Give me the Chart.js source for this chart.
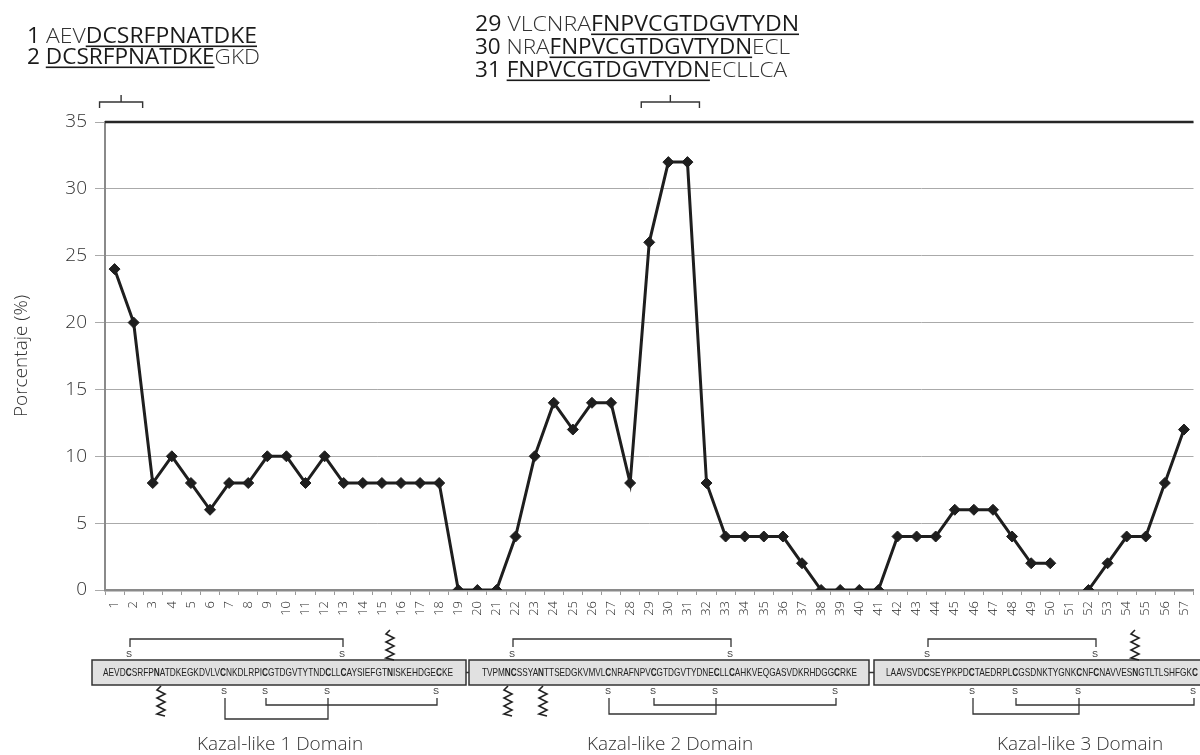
<!DOCTYPE html>
<html>
<head>
<meta charset="utf-8">
<script src="https://cdn.jsdelivr.net/npm/chart.js@4.4.1/dist/chart.umd.min.js"></script>
<style>
  html, body { margin: 0; padding: 0; background: #fff; overflow: hidden; }
  #chart1 { display: block; }
</style>
</head>
<body>
<canvas id="chart1" width="1200" height="755" style="width:1200px;height:755px"></canvas>
<script>
// peptide positions (x categories) and percentage per position
const positions = ['1','2','3','4','5','6','7','8','9','10','11','12','13','14','15','16','17','18','19','20',
                   '21','22','23','24','25','26','27','28','29','30','31','32','33','34','35','36','37','38','39','40',
                   '41','42','43','44','45','46','47','48','49','50','51','52','53','54','55','56','57'];
const percent = [24, 20, 8, 10, 8, 6, 8, 8, 10, 10,
                 8, 10, 8, 8, 8, 8, 8, 8, 0, 0,
                 0, 4, 10, 14, 12, 14, 14, 8, 26, 32,
                 32, 8, 4, 4, 4, 4, 2, 0, 0, 0,
                 0, 4, 4, 4, 6, 6, 6, 4, 2, 2,
                 null, 0, 2, 4, 4, 8, 12];
const yTicks = [0, 5, 10, 15, 20, 25, 30, 35];

// peptides shown above the chart: [number, leading, core (underlined), trailing]
const peptidesA = [['1 ', 'AEV', 'DCSRFPNATDKE', ''],
                   ['2 ', '', 'DCSRFPNATDKE', 'GKD']];
const peptidesB = [['29 ', 'VLCNRA', 'FNPVCGTDGVTYDN', ''],
                   ['30 ', 'NRA', 'FNPVCGTDGVTYDN', 'ECL'],
                   ['31 ', '', 'FNPVCGTDGVTYDN', 'ECLLCA']];
const bracketA = ['1', '2'];
const bracketB = ['29', '31'];

// domain sequences, [..] = bold residues
const domainSeqs = ['AEVD[C]SRFP[N]ATDKEGKDVLV[C]NKDLRPI[C]GTDGVTYTND[C]LL[C]AYSIEFGT[N]ISKEHDGE[C]KE',
                    'TVPM[NC]SSYA[N]TTSEDGKVMVL[C]NRAFNPV[C]GTDGVTYDNE[C]LL[C]AHKVEQGASVDKRHDGG[C]RKE',
                    'LAAVSVD[C]SEYPKPD[C]TAEDRPL[C]GSDNKTYGNK[C]NF[C]NAVVES[N]GTLTLSHFGK[C]'];
const domainNames = ['Kazal-like 1 Domain', 'Kazal-like 2 Domain', 'Kazal-like 3 Domain'];

const FONT = "'Open Sans', 'DejaVu Sans', sans-serif";

function drawPeptide(ctx, p, x, y, w) {
    const parts = [
        { t: p[0], f: '400 21px ' + FONT, c: '#1a1a1a' },
        { t: p[1], f: '300 21px ' + FONT, c: '#333' },
        { t: p[2], f: '400 21px ' + FONT, c: '#1a1a1a', u: true },
        { t: p[3], f: '300 21px ' + FONT, c: '#333' }
    ];
    let total = 0;
    parts.forEach(pt => { ctx.font = pt.f; pt.w = ctx.measureText(pt.t).width; total += pt.w; });
    const s = w / total;
    ctx.save();
    ctx.translate(x, y);
    ctx.scale(s, 1);
    ctx.textBaseline = 'alphabetic';
    ctx.textAlign = 'left';
    let cx = 0;
    parts.forEach(pt => {
        ctx.font = pt.f;
        ctx.fillStyle = pt.c;
        ctx.fillText(pt.t, cx, 0);
        if (pt.u) {
            ctx.fillRect(cx, 2.5, pt.w, 1.6);
        }
        cx += pt.w;
    });
    ctx.restore();
}

function drawSeq(ctx, str, x, y, w) {
    const runs = [];
    let cur = '';
    for (const ch of str) {
        if (ch === '[') { if (cur) runs.push({ t: cur, b: false }); cur = ''; }
        else if (ch === ']') { runs.push({ t: cur, b: true }); cur = ''; }
        else cur += ch;
    }
    if (cur) runs.push({ t: cur, b: false });
    let total = 0;
    runs.forEach(r => {
        ctx.font = (r.b ? 'bold ' : '') + "11px 'Liberation Sans', Arial, sans-serif";
        r.w = ctx.measureText(r.t).width;
        total += r.w;
    });
    const s = w / total;
    ctx.save();
    ctx.translate(x, y);
    ctx.scale(s, 1);
    ctx.textBaseline = 'middle';
    ctx.textAlign = 'left';
    ctx.fillStyle = '#222';
    let cx = 0;
    runs.forEach(r => {
        ctx.font = (r.b ? 'bold ' : '') + "11px 'Liberation Sans', Arial, sans-serif";
        ctx.fillText(r.t, cx, 0);
        cx += r.w;
    });
    ctx.restore();
}

function zigzag(ctx, x, top, bottom) {
    ctx.beginPath();
    let y = top, side = -1;
    ctx.moveTo(x, y);
    while (y < bottom) {
        y = Math.min(bottom, y + 4);
        ctx.lineTo(x + side * 4, y);
        side = -side;
    }
    ctx.stroke();
}

function sLabel(ctx, x, y) {
    ctx.font = "9px 'Liberation Sans', sans-serif";
    ctx.textAlign = 'center';
    ctx.textBaseline = 'middle';
    ctx.fillStyle = '#333';
    ctx.fillText('S', x, y);
}

const decorations = {
    id: 'decorations',
    afterDraw(chart) {
        const ctx = chart.ctx;
        const area = chart.chartArea;
        const xs = chart.scales.x;
        ctx.save();

        // dark top border of the plot
        ctx.strokeStyle = '#262626';
        ctx.lineWidth = 2.5;
        ctx.beginPath();
        ctx.moveTo(area.left, area.top);
        ctx.lineTo(area.right, area.top);
        ctx.stroke();

        // vertical category labels under the x axis
        ctx.font = '300 13px ' + FONT;
        ctx.fillStyle = '#2a2a2a';
        ctx.textAlign = 'right';
        ctx.textBaseline = 'middle';
        positions.forEach((p, i) => {
            ctx.save();
            ctx.translate(xs.getPixelForValue(i), area.bottom + 11);
            ctx.rotate(-Math.PI / 2);
            ctx.fillText(p, 0, 0);
            ctx.restore();
        });

        // peptide texts
        drawPeptide(ctx, peptidesA[0], 27, 43, 230);
        drawPeptide(ctx, peptidesA[1], 27, 64, 233);
        drawPeptide(ctx, peptidesB[0], 475, 31, 324);
        drawPeptide(ctx, peptidesB[1], 475, 54, 315);
        drawPeptide(ctx, peptidesB[2], 475, 77, 312);

        // brackets over the categories
        ctx.strokeStyle = '#333';
        ctx.lineWidth = 1.4;
        [[bracketA, -15, 9], [bracketB, -8, 12]].forEach(([b, dl, dr]) => {
            const l = xs.getPixelForValue(positions.indexOf(b[0])) + dl;
            const r = xs.getPixelForValue(positions.indexOf(b[1])) + dr;
            const m = (l + r) / 2;
            ctx.beginPath();
            ctx.moveTo(l, 108); ctx.lineTo(l, 102); ctx.lineTo(r, 102); ctx.lineTo(r, 108);
            ctx.moveTo(m, 102); ctx.lineTo(m, 95);
            ctx.stroke();
        });

        // domain boxes
        const boxes = [[92, 466], [469, 869], [874, 1215]];
        ctx.fillStyle = '#e1e1e1';
        ctx.strokeStyle = '#333';
        ctx.lineWidth = 1.5;
        boxes.forEach(b => {
            ctx.fillRect(b[0], 660, b[1] - b[0], 25);
            ctx.strokeRect(b[0], 660, b[1] - b[0], 25);
        });
        ctx.beginPath();
        ctx.moveTo(466, 672.5); ctx.lineTo(469, 672.5);
        ctx.moveTo(869, 672.5); ctx.lineTo(874, 672.5);
        ctx.stroke();

        drawSeq(ctx, domainSeqs[0], 103, 673, 350);
        drawSeq(ctx, domainSeqs[1], 482, 673, 375);
        drawSeq(ctx, domainSeqs[2], 886, 673, 312);

        // disulfide bonds
        const bonds = [
            { up: [129, 342], down: [224, 265, 327, 436], low: 719 },
            { up: [512, 730], down: [608, 653, 715, 835], low: 714 },
            { up: [927, 1095], down: [972, 1015, 1078, 1193], low: 714 }
        ];
        ctx.strokeStyle = '#333';
        ctx.lineWidth = 1.3;
        bonds.forEach(b => {
            b.up.forEach(x => sLabel(ctx, x, 655));
            b.down.forEach(x => sLabel(ctx, x, 692));
            const d = b.down;
            ctx.beginPath();
            ctx.moveTo(b.up[0] + 1, 647); ctx.lineTo(b.up[0] + 1, 639);
            ctx.lineTo(b.up[1] + 1, 639); ctx.lineTo(b.up[1] + 1, 647);
            ctx.moveTo(d[0] + 1, 698); ctx.lineTo(d[0] + 1, b.low);
            ctx.lineTo(d[2] + 1, b.low); ctx.lineTo(d[2] + 1, 698);
            ctx.moveTo(d[1] + 1, 698); ctx.lineTo(d[1] + 1, 705);
            ctx.lineTo(d[3] + 1, 705); ctx.lineTo(d[3] + 1, 698);
            ctx.stroke();
        });

        // glycosylation zigzags
        ctx.lineWidth = 1.6;
        ctx.strokeStyle = '#222';
        [390, 1135].forEach(x => zigzag(ctx, x, 630, 660));
        [161, 508, 543].forEach(x => zigzag(ctx, x, 686, 716));

        // domain names
        ctx.font = '300 19px ' + FONT;
        ctx.fillStyle = '#333';
        ctx.textAlign = 'center';
        ctx.textBaseline = 'alphabetic';
        [280, 670, 1080].forEach((x, i) => ctx.fillText(domainNames[i], x, 750));

        ctx.restore();
    }
};

document.addEventListener("DOMContentLoaded", function() {
    const ctx1 = document.getElementById('chart1').getContext('2d');
    new Chart(ctx1, {
        type: 'line',
        data: {
            labels: positions,
            datasets: [{
                label: 'Porcentaje',
                data: percent,
                borderColor: '#1e1e1e',
                backgroundColor: '#1e1e1e',
                borderWidth: 3,
                pointStyle: 'rectRot',
                pointRadius: 5.5,
                pointBorderWidth: 1,
                pointBackgroundColor: '#1e1e1e',
                pointBorderColor: '#1e1e1e',
                tension: 0,
                spanGaps: false
            }]
        },
        options: {
            responsive: false,
            animation: false,
            devicePixelRatio: 1,
            layout: { padding: { top: 122, right: 0, bottom: 0, left: 0 } },
            plugins: {
                legend: { display: false },
                tooltip: { enabled: false }
            },
            scales: {
                x: {
                    offset: true,
                    grid: { offset: true, drawOnChartArea: false, drawTicks: true, tickLength: 5, color: '#999' },
                    border: { color: '#8a8a8a', width: 2.5 },
                    ticks: { display: false, autoSkip: false },
                    afterFit: function(s) { s.height = 165; }
                },
                y: {
                    min: 0,
                    max: 35,
                    afterBuildTicks: function(s) { s.ticks = yTicks.map(v => ({ value: v })); },
                    grid: { color: '#aaa', lineWidth: 1, tickLength: 10 },
                    border: { color: '#8a8a8a', width: 2 },
                    ticks: { padding: 8, color: '#333', font: { family: FONT, size: 19, weight: 300 } },
                    title: {
                        display: true, text: 'Porcentaje (%)', color: '#333',
                        font: { family: FONT, size: 19, weight: 300 },
                        padding: { top: 10, bottom: 0 }
                    },
                    afterFit: function(s) { s.width = 105; }
                }
            }
        },
        plugins: [decorations]
    });
});
</script>
</body>
</html>
